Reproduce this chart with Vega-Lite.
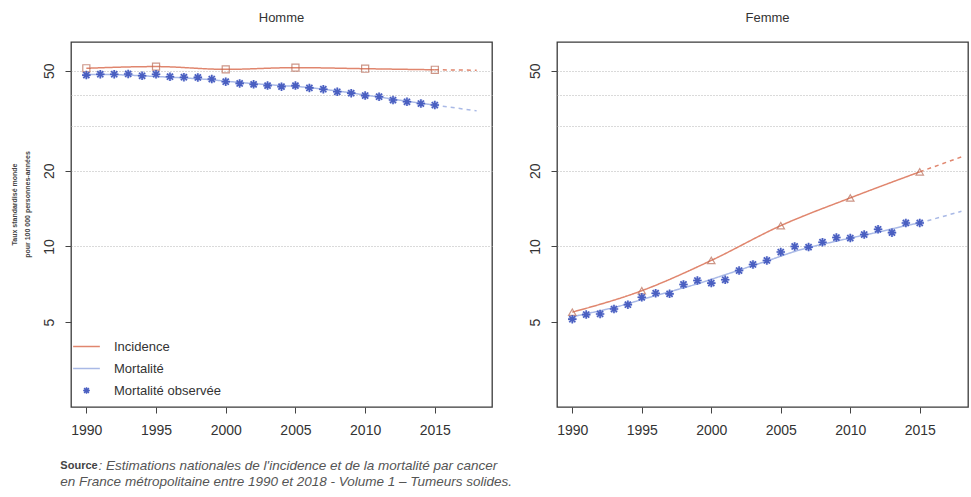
{
  "$schema": "https://vega.github.io/schema/vega-lite/v6.json",
  "padding": {"left": 9, "top": 11, "right": 0, "bottom": 0},
  "config": {
    "font": "Liberation Sans",
    "view": {"stroke": "#3a3a3a", "strokeWidth": 1.3},
    "axis": {"labelFontSize": 14, "labelColor": "#333", "tickColor": "#444", "tickSize": 6, "domain": false, "labelFont": "Liberation Sans", "grid": false},
    "legend": {"labelFont": "Liberation Sans"}
  },
  "title": {
    "text": "Source",
    "subtitle": "en France métropolitaine entre 1990 et 2018 - Volume 1 – Tumeurs solides.",
    "orient": "bottom", "anchor": "start", "dx": 51, "offset": -12,
    "font": "Liberation Sans", "fontSize": 11, "fontWeight": "bold", "color": "#444",
    "subtitleFont": "Liberation Sans", "subtitleFontSize": 13.5, "subtitleFontStyle": "italic", "subtitleColor": "#555", "subtitlePadding": 4
  },
  "data": {"values": [
    {"sexe":"Homme","serie":"Incidence","periode":"estimation","annee":1990,"valeur":51.1},
    {"sexe":"Homme","serie":"Incidence","periode":"estimation","annee":1995,"valeur":51.9},
    {"sexe":"Homme","serie":"Incidence","periode":"estimation","annee":2000,"valeur":50.6},
    {"sexe":"Homme","serie":"Incidence","periode":"estimation","annee":2005,"valeur":51.4},
    {"sexe":"Homme","serie":"Incidence","periode":"estimation","annee":2010,"valeur":50.9},
    {"sexe":"Homme","serie":"Incidence","periode":"estimation","annee":2015,"valeur":50.4},
    {"sexe":"Homme","serie":"Incidence","periode":"projection","annee":2015,"valeur":50.4},
    {"sexe":"Homme","serie":"Incidence","periode":"projection","annee":2018,"valeur":50.2},
    {"sexe":"Homme","serie":"Mortalité","periode":"estimation","annee":1990,"valeur":48.3},
    {"sexe":"Homme","serie":"Mortalité","periode":"estimation","annee":1991,"valeur":48.3},
    {"sexe":"Homme","serie":"Mortalité","periode":"estimation","annee":1992,"valeur":48.2},
    {"sexe":"Homme","serie":"Mortalité","periode":"estimation","annee":1993,"valeur":48.0},
    {"sexe":"Homme","serie":"Mortalité","periode":"estimation","annee":1994,"valeur":47.7},
    {"sexe":"Homme","serie":"Mortalité","periode":"estimation","annee":1995,"valeur":47.4},
    {"sexe":"Homme","serie":"Mortalité","periode":"estimation","annee":1996,"valeur":47.1},
    {"sexe":"Homme","serie":"Mortalité","periode":"estimation","annee":1997,"valeur":46.8},
    {"sexe":"Homme","serie":"Mortalité","periode":"estimation","annee":1998,"valeur":46.4},
    {"sexe":"Homme","serie":"Mortalité","periode":"estimation","annee":1999,"valeur":46.0},
    {"sexe":"Homme","serie":"Mortalité","periode":"estimation","annee":2000,"valeur":45.4},
    {"sexe":"Homme","serie":"Mortalité","periode":"estimation","annee":2001,"valeur":44.9},
    {"sexe":"Homme","serie":"Mortalité","periode":"estimation","annee":2002,"valeur":44.4},
    {"sexe":"Homme","serie":"Mortalité","periode":"estimation","annee":2003,"valeur":44.0},
    {"sexe":"Homme","serie":"Mortalité","periode":"estimation","annee":2004,"valeur":43.6},
    {"sexe":"Homme","serie":"Mortalité","periode":"estimation","annee":2005,"valeur":43.3},
    {"sexe":"Homme","serie":"Mortalité","periode":"estimation","annee":2006,"valeur":42.8},
    {"sexe":"Homme","serie":"Mortalité","periode":"estimation","annee":2007,"valeur":42.2},
    {"sexe":"Homme","serie":"Mortalité","periode":"estimation","annee":2008,"valeur":41.5},
    {"sexe":"Homme","serie":"Mortalité","periode":"estimation","annee":2009,"valeur":40.8},
    {"sexe":"Homme","serie":"Mortalité","periode":"estimation","annee":2010,"valeur":40.0},
    {"sexe":"Homme","serie":"Mortalité","periode":"estimation","annee":2011,"valeur":39.3},
    {"sexe":"Homme","serie":"Mortalité","periode":"estimation","annee":2012,"valeur":38.5},
    {"sexe":"Homme","serie":"Mortalité","periode":"estimation","annee":2013,"valeur":37.8},
    {"sexe":"Homme","serie":"Mortalité","periode":"estimation","annee":2014,"valeur":37.1},
    {"sexe":"Homme","serie":"Mortalité","periode":"estimation","annee":2015,"valeur":36.5},
    {"sexe":"Homme","serie":"Mortalité","periode":"projection","annee":2015,"valeur":36.5},
    {"sexe":"Homme","serie":"Mortalité","periode":"projection","annee":2018,"valeur":34.6},
    {"sexe":"Homme","serie":"Mortalité observée","periode":"estimation","annee":1990,"valeur":48.0},
    {"sexe":"Homme","serie":"Mortalité observée","periode":"estimation","annee":1991,"valeur":48.4},
    {"sexe":"Homme","serie":"Mortalité observée","periode":"estimation","annee":1992,"valeur":48.4},
    {"sexe":"Homme","serie":"Mortalité observée","periode":"estimation","annee":1993,"valeur":48.5},
    {"sexe":"Homme","serie":"Mortalité observée","periode":"estimation","annee":1994,"valeur":47.7},
    {"sexe":"Homme","serie":"Mortalité observée","periode":"estimation","annee":1995,"valeur":48.4},
    {"sexe":"Homme","serie":"Mortalité observée","periode":"estimation","annee":1996,"valeur":47.3},
    {"sexe":"Homme","serie":"Mortalité observée","periode":"estimation","annee":1997,"valeur":47.1},
    {"sexe":"Homme","serie":"Mortalité observée","periode":"estimation","annee":1998,"valeur":47.0},
    {"sexe":"Homme","serie":"Mortalité observée","periode":"estimation","annee":1999,"valeur":46.3},
    {"sexe":"Homme","serie":"Mortalité observée","periode":"estimation","annee":2000,"valeur":45.2},
    {"sexe":"Homme","serie":"Mortalité observée","periode":"estimation","annee":2001,"valeur":44.5},
    {"sexe":"Homme","serie":"Mortalité observée","periode":"estimation","annee":2002,"valeur":44.1},
    {"sexe":"Homme","serie":"Mortalité observée","periode":"estimation","annee":2003,"valeur":43.6},
    {"sexe":"Homme","serie":"Mortalité observée","periode":"estimation","annee":2004,"valeur":43.2},
    {"sexe":"Homme","serie":"Mortalité observée","periode":"estimation","annee":2005,"valeur":43.6},
    {"sexe":"Homme","serie":"Mortalité observée","periode":"estimation","annee":2006,"valeur":42.7},
    {"sexe":"Homme","serie":"Mortalité observée","periode":"estimation","annee":2007,"valeur":42.2},
    {"sexe":"Homme","serie":"Mortalité observée","periode":"estimation","annee":2008,"valeur":41.2},
    {"sexe":"Homme","serie":"Mortalité observée","periode":"estimation","annee":2009,"valeur":40.7},
    {"sexe":"Homme","serie":"Mortalité observée","periode":"estimation","annee":2010,"valeur":39.8},
    {"sexe":"Homme","serie":"Mortalité observée","periode":"estimation","annee":2011,"valeur":39.4},
    {"sexe":"Homme","serie":"Mortalité observée","periode":"estimation","annee":2012,"valeur":38.2},
    {"sexe":"Homme","serie":"Mortalité observée","periode":"estimation","annee":2013,"valeur":37.6},
    {"sexe":"Homme","serie":"Mortalité observée","periode":"estimation","annee":2014,"valeur":37.0},
    {"sexe":"Homme","serie":"Mortalité observée","periode":"estimation","annee":2015,"valeur":36.5},
    {"sexe":"Femme","serie":"Incidence","periode":"estimation","annee":1990,"valeur":5.48},
    {"sexe":"Femme","serie":"Incidence","periode":"estimation","annee":1995,"valeur":6.67},
    {"sexe":"Femme","serie":"Incidence","periode":"estimation","annee":2000,"valeur":8.8},
    {"sexe":"Femme","serie":"Incidence","periode":"estimation","annee":2005,"valeur":12.1},
    {"sexe":"Femme","serie":"Incidence","periode":"estimation","annee":2010,"valeur":15.6},
    {"sexe":"Femme","serie":"Incidence","periode":"estimation","annee":2015,"valeur":19.8},
    {"sexe":"Femme","serie":"Incidence","periode":"projection","annee":2015,"valeur":19.8},
    {"sexe":"Femme","serie":"Incidence","periode":"projection","annee":2018,"valeur":22.7},
    {"sexe":"Femme","serie":"Mortalité","periode":"estimation","annee":1990,"valeur":5.25},
    {"sexe":"Femme","serie":"Mortalité","periode":"estimation","annee":1991,"valeur":5.4},
    {"sexe":"Femme","serie":"Mortalité","periode":"estimation","annee":1992,"valeur":5.55},
    {"sexe":"Femme","serie":"Mortalité","periode":"estimation","annee":1993,"valeur":5.72},
    {"sexe":"Femme","serie":"Mortalité","periode":"estimation","annee":1994,"valeur":5.92},
    {"sexe":"Femme","serie":"Mortalité","periode":"estimation","annee":1995,"valeur":6.15},
    {"sexe":"Femme","serie":"Mortalité","periode":"estimation","annee":1996,"valeur":6.38},
    {"sexe":"Femme","serie":"Mortalité","periode":"estimation","annee":1997,"valeur":6.6},
    {"sexe":"Femme","serie":"Mortalité","periode":"estimation","annee":1998,"valeur":6.85},
    {"sexe":"Femme","serie":"Mortalité","periode":"estimation","annee":1999,"valeur":7.1},
    {"sexe":"Femme","serie":"Mortalité","periode":"estimation","annee":2000,"valeur":7.4},
    {"sexe":"Femme","serie":"Mortalité","periode":"estimation","annee":2001,"valeur":7.72},
    {"sexe":"Femme","serie":"Mortalité","periode":"estimation","annee":2002,"valeur":8.05},
    {"sexe":"Femme","serie":"Mortalité","periode":"estimation","annee":2003,"valeur":8.4},
    {"sexe":"Femme","serie":"Mortalité","periode":"estimation","annee":2004,"valeur":8.75},
    {"sexe":"Femme","serie":"Mortalité","periode":"estimation","annee":2005,"valeur":9.15},
    {"sexe":"Femme","serie":"Mortalité","periode":"estimation","annee":2006,"valeur":9.55},
    {"sexe":"Femme","serie":"Mortalité","periode":"estimation","annee":2007,"valeur":9.9},
    {"sexe":"Femme","serie":"Mortalité","periode":"estimation","annee":2008,"valeur":10.2},
    {"sexe":"Femme","serie":"Mortalité","periode":"estimation","annee":2009,"valeur":10.5},
    {"sexe":"Femme","serie":"Mortalité","periode":"estimation","annee":2010,"valeur":10.8},
    {"sexe":"Femme","serie":"Mortalité","periode":"estimation","annee":2011,"valeur":11.1},
    {"sexe":"Femme","serie":"Mortalité","periode":"estimation","annee":2012,"valeur":11.4},
    {"sexe":"Femme","serie":"Mortalité","periode":"estimation","annee":2013,"valeur":11.75},
    {"sexe":"Femme","serie":"Mortalité","periode":"estimation","annee":2014,"valeur":12.1},
    {"sexe":"Femme","serie":"Mortalité","periode":"estimation","annee":2015,"valeur":12.4},
    {"sexe":"Femme","serie":"Mortalité","periode":"projection","annee":2015,"valeur":12.4},
    {"sexe":"Femme","serie":"Mortalité","periode":"projection","annee":2018,"valeur":13.8},
    {"sexe":"Femme","serie":"Mortalité observée","periode":"estimation","annee":1990,"valeur":5.14},
    {"sexe":"Femme","serie":"Mortalité observée","periode":"estimation","annee":1991,"valeur":5.36},
    {"sexe":"Femme","serie":"Mortalité observée","periode":"estimation","annee":1992,"valeur":5.39},
    {"sexe":"Femme","serie":"Mortalité observée","periode":"estimation","annee":1993,"valeur":5.64},
    {"sexe":"Femme","serie":"Mortalité observée","periode":"estimation","annee":1994,"valeur":5.87},
    {"sexe":"Femme","serie":"Mortalité observée","periode":"estimation","annee":1995,"valeur":6.28},
    {"sexe":"Femme","serie":"Mortalité observée","periode":"estimation","annee":1996,"valeur":6.52},
    {"sexe":"Femme","serie":"Mortalité observée","periode":"estimation","annee":1997,"valeur":6.48},
    {"sexe":"Femme","serie":"Mortalité observée","periode":"estimation","annee":1998,"valeur":7.06},
    {"sexe":"Femme","serie":"Mortalité observée","periode":"estimation","annee":1999,"valeur":7.32},
    {"sexe":"Femme","serie":"Mortalité observée","periode":"estimation","annee":2000,"valeur":7.15},
    {"sexe":"Femme","serie":"Mortalité observée","periode":"estimation","annee":2001,"valeur":7.37},
    {"sexe":"Femme","serie":"Mortalité observée","periode":"estimation","annee":2002,"valeur":8.02},
    {"sexe":"Femme","serie":"Mortalité observée","periode":"estimation","annee":2003,"valeur":8.48},
    {"sexe":"Femme","serie":"Mortalité observée","periode":"estimation","annee":2004,"valeur":8.8},
    {"sexe":"Femme","serie":"Mortalité observée","periode":"estimation","annee":2005,"valeur":9.5},
    {"sexe":"Femme","serie":"Mortalité observée","periode":"estimation","annee":2006,"valeur":10.0},
    {"sexe":"Femme","serie":"Mortalité observée","periode":"estimation","annee":2007,"valeur":9.94},
    {"sexe":"Femme","serie":"Mortalité observée","periode":"estimation","annee":2008,"valeur":10.4},
    {"sexe":"Femme","serie":"Mortalité observée","periode":"estimation","annee":2009,"valeur":10.85},
    {"sexe":"Femme","serie":"Mortalité observée","periode":"estimation","annee":2010,"valeur":10.8},
    {"sexe":"Femme","serie":"Mortalité observée","periode":"estimation","annee":2011,"valeur":11.15},
    {"sexe":"Femme","serie":"Mortalité observée","periode":"estimation","annee":2012,"valeur":11.7},
    {"sexe":"Femme","serie":"Mortalité observée","periode":"estimation","annee":2013,"valeur":11.35},
    {"sexe":"Femme","serie":"Mortalité observée","periode":"estimation","annee":2014,"valeur":12.4},
    {"sexe":"Femme","serie":"Mortalité observée","periode":"estimation","annee":2015,"valeur":12.4}
  ]},
  "spacing": 29,
  "hconcat": [
    {
      "title": {"text": "Homme", "fontSize": 13, "fontWeight": "normal", "color": "#333", "offset": 17},
      "width": 421, "height": 365,
      "transform": [{"filter": "datum.sexe === 'Homme'"}],
      "encoding": {
        "x": {"field": "annee", "type": "quantitative",
          "scale": {"domain": [1988.9, 2019.1], "nice": false, "zero": false},
          "axis": {"values": [1990, 1995, 2000, 2005, 2010, 2015], "format": "d", "labelPadding": 10,
            "title": ": Estimations nationales de l'incidence et de la mortalité par cancer",
            "titleFont": "Liberation Sans", "titleFontSize": 13.5, "titleFontStyle": "italic", "titleFontWeight": "normal", "titleColor": "#555",
            "titleAnchor": "start", "titleAlign": "left", "titleBaseline": "middle", "titleX": 27, "titleY": 58}},
        "y": {"field": "valeur", "type": "quantitative",
          "scale": {"type": "log", "domain": [2.3, 65], "nice": false},
          "axis": {"title": ["Taux standardisé monde", "pour 100 000 personnes-années"], "titleFontSize": 7, "titleFontWeight": "bold", "titleColor": "#444", "titlePadding": 12, "titleY": 162, "titleLineHeight": 13,
            "values": [5, 10, 20, 30, 40, 50], "labelAngle": -90, "labelPadding": 9,
            "labelExpr": "(datum.value == 30 || datum.value == 40) ? '' : datum.label",
            "tickOpacity": {"condition": {"test": "datum.value == 30 || datum.value == 40", "value": 0}, "value": 1},
            "grid": true, "gridColor": "#b5b5b5", "gridDash": [1, 2],
            "gridOpacity": {"condition": {"test": "datum.value == 5", "value": 0}, "value": 1}}}
      },
      "layer": [
        {
          "transform": [{"filter": "datum.serie !== 'Mortalité observée'"}],
          "mark": {"type": "line", "strokeWidth": 1.5, "interpolate": "monotone"},
          "encoding": {
            "color": {"field": "serie", "type": "nominal",
              "scale": {"domain": ["Incidence", "Mortalité", "Mortalité observée"], "range": ["#e0866e", "#a9b9e6", "#4a5fc1"]},
              "legend": {"title": null, "orient": "none", "legendX": 1, "legendY": 290, "labelFontSize": 13, "labelColor": "#333", "symbolSize": 713, "symbolStrokeWidth": 1.5, "rowPadding": -6, "labelOffset": 13, "padding": 0}},
            "strokeDash": {"field": "periode", "type": "nominal", "scale": {"domain": ["estimation", "projection"], "range": [[1, 0], [4, 4]]}, "legend": null}
          }
        },
        {
          "transform": [{"filter": "datum.serie === 'Incidence' && datum.periode === 'estimation'"}],
          "mark": {"type": "point", "shape": "square", "filled": false, "color": "#b86a55", "size": 50, "strokeWidth": 1.2}
        },
        {
          "transform": [{"filter": "datum.serie === 'Mortalité observée'"}],
          "mark": {"type": "point", "shape": "circle", "filled": true, "color": "#7088dc", "opacity": 0.3, "size": 70}
        },
        {
          "transform": [{"filter": "datum.serie === 'Mortalité observée'"}],
          "mark": {"type": "point", "filled": false, "size": 1156, "strokeWidth": 1.6, "opacity": 1},
          "encoding": {
            "color": {"field": "serie", "type": "nominal"},
            "shape": {"field": "serie", "type": "nominal",
              "scale": {"domain": ["Incidence", "Mortalité", "Mortalité observée"], "range": ["stroke", "stroke", "M0,-0.25L0,0.25M-0.25,0L0.25,0M-0.18,-0.18L0.18,0.18M-0.18,0.18L0.18,-0.18"]}}
          }
        }
      ]
    },
    {
      "title": {"text": "Femme", "fontSize": 13, "fontWeight": "normal", "color": "#333", "offset": 17, "dx": 5},
      "width": 411, "height": 365,
      "transform": [{"filter": "datum.sexe === 'Femme'"}],
      "encoding": {
        "x": {"field": "annee", "type": "quantitative",
          "scale": {"domain": [1988.9, 2018.47], "nice": false, "zero": false},
          "axis": {"title": null, "values": [1990, 1995, 2000, 2005, 2010, 2015], "format": "d", "labelPadding": 10}},
        "y": {"field": "valeur", "type": "quantitative",
          "scale": {"type": "log", "domain": [2.3, 65], "nice": false},
          "axis": {"title": null,
            "values": [5, 10, 20, 30, 40, 50], "labelAngle": -90, "labelPadding": 9,
            "labelExpr": "(datum.value == 30 || datum.value == 40) ? '' : datum.label",
            "tickOpacity": {"condition": {"test": "datum.value == 30 || datum.value == 40", "value": 0}, "value": 1},
            "grid": true, "gridColor": "#b5b5b5", "gridDash": [1, 2],
            "gridOpacity": {"condition": {"test": "datum.value == 5", "value": 0}, "value": 1}}}
      },
      "layer": [
        {
          "transform": [{"filter": "datum.serie !== 'Mortalité observée'"}],
          "mark": {"type": "line", "strokeWidth": 1.5, "interpolate": "monotone"},
          "encoding": {
            "color": {"field": "serie", "type": "nominal",
              "scale": {"domain": ["Incidence", "Mortalité", "Mortalité observée"], "range": ["#e0866e", "#a9b9e6", "#4a5fc1"]},
              "legend": null},
            "strokeDash": {"field": "periode", "type": "nominal", "scale": {"domain": ["estimation", "projection"], "range": [[1, 0], [4, 4]]}, "legend": null}
          }
        },
        {
          "transform": [{"filter": "datum.serie === 'Incidence' && datum.periode === 'estimation'"}],
          "mark": {"type": "point", "shape": "triangle-up", "filled": false, "color": "#b86a55", "size": 55, "strokeWidth": 1.2}
        },
        {
          "transform": [{"filter": "datum.serie === 'Mortalité observée'"}],
          "mark": {"type": "point", "shape": "circle", "filled": true, "color": "#7088dc", "opacity": 0.3, "size": 70}
        },
        {
          "transform": [{"filter": "datum.serie === 'Mortalité observée'"}],
          "mark": {"type": "point", "filled": false, "size": 1156, "strokeWidth": 1.6, "opacity": 1},
          "encoding": {
            "color": {"field": "serie", "type": "nominal", "legend": null},
            "shape": {"field": "serie", "type": "nominal", "legend": null,
              "scale": {"domain": ["Incidence", "Mortalité", "Mortalité observée"], "range": ["stroke", "stroke", "M0,-0.25L0,0.25M-0.25,0L0.25,0M-0.18,-0.18L0.18,0.18M-0.18,0.18L0.18,-0.18"]}}
          }
        }
      ]
    }
  ]
}
